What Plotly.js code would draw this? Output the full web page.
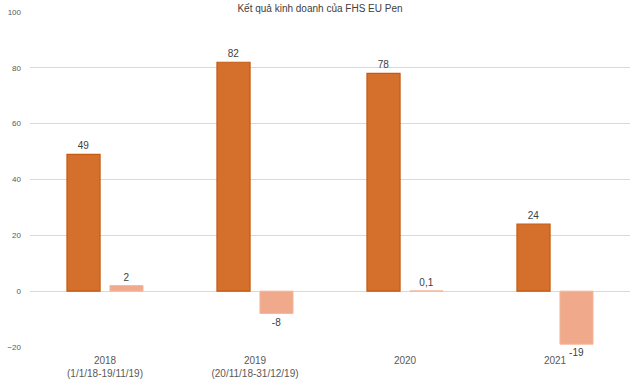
<!DOCTYPE html>
<html>
<head>
<meta charset="utf-8">
<script src="https://cdn.plot.ly/plotly-3.0.1.min.js"></script>
<style>html,body{margin:0;padding:0;background:#fff;}#chart{width:640px;height:381px;}</style>
</head>
<body>
<div id="chart"></div>
<script>
const categories = ["2018<br>(1/1/18-19/11/19)", "2019<br>(20/11/18-31/12/19)", "2020", "2021"];
const revenue = [49, 82, 78, 24];
const profit = [2, -8, 0.1, -19];
const revenueLabels = ["49", "82", "78", "24"];
const profitLabels = ["2", "-8", "0,1", "-19"];
const titleText = "Kết quả kinh doanh của FHS EU Pen";

const font = {family: "Liberation Sans, Arial, sans-serif", size: 10, color: "#404040"};

const traces = [
  {
    type: "bar", x: categories, y: revenue, text: revenueLabels,
    textposition: "outside", cliponaxis: false,
    textfont: {family: font.family, size: 10, color: "#404040"},
    marker: {color: "#D4702C", line: {color: "#C55A11", width: 1.2}},
    hoverinfo: "none"
  },
  {
    type: "bar", x: categories, y: profit, text: profitLabels,
    textposition: "outside", cliponaxis: false,
    textfont: {family: font.family, size: 10, color: "#404040"},
    marker: {color: "#F0A98A", line: {color: "#F4B89E", width: 1}},
    hoverinfo: "none"
  }
];

const layout = {
  width: 640, height: 381,
  margin: {l: 30, r: 10, t: 12, b: 34},
  paper_bgcolor: "#fff", plot_bgcolor: "#fff",
  font: font,
  showlegend: false,
  barmode: "group",
  bargap: 0.427,
  bargroupgap: 0.23,
  title: {text: titleText, x: 0.5, xanchor: "center", y: 0.5, yref: "container", yanchor: "middle",
          pad: {t: 0, b: 0},
          font: {family: font.family, size: 10, color: "#404040"}},
  xaxis: {
    type: "category", showgrid: false, zeroline: false, showline: false,
    ticks: "", ticklabelstandoff: 6,
    tickfont: {family: font.family, size: 10, color: "#595959"}
  },
  yaxis: {
    range: [-20, 100], tickvals: [-20, 0, 20, 40, 60, 80, 100],
    showgrid: true, gridcolor: "#D9D9D9", gridwidth: 1,
    zeroline: true, zerolinecolor: "#D9D9D9", zerolinewidth: 1,
    showline: false, ticks: "", ticklabelstandoff: 8,
    tickfont: {family: font.family, size: 8, color: "#595959"}
  }
};

Plotly.newPlot("chart", traces, layout, {displayModeBar: false, staticPlot: true}).then(function(){
  // place title near the top edge, fully visible
  const t = document.querySelector(".gtitle");
  if (t) { t.setAttribute("y", "8"); }
});
</script>
</body>
</html>
